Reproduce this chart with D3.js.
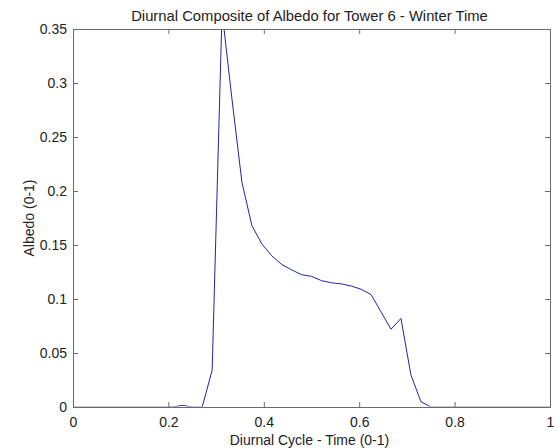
<!DOCTYPE html>
<html>
<head>
<meta charset="utf-8">
<script src="https://cdn.jsdelivr.net/npm/d3@7"></script>
<style>
  body { margin: 0; background: #fff; }
  text { font-family: "Liberation Sans", Arial, sans-serif; fill: #222; }
</style>
</head>
<body>
<div id="chart"></div>
<script>
// half-hour steps of the diurnal cycle (0-1)
const times = [0, 0.0208, 0.0417, 0.0625, 0.0833, 0.1042, 0.125, 0.1458, 0.1667, 0.1875,
  0.2083, 0.2292, 0.25, 0.2708, 0.2917, 0.3125, 0.3333, 0.3542, 0.375, 0.3958,
  0.4167, 0.4375, 0.4583, 0.4792, 0.5, 0.5208, 0.5417, 0.5625, 0.5833, 0.6042,
  0.625, 0.6458, 0.6667, 0.6875, 0.7083, 0.7292, 0.75, 0.7708, 0.7917, 0.8125,
  0.8333, 0.8542, 0.875, 0.8958, 0.9167, 0.9375, 0.9583, 0.9792, 1];
const albedo = [0, 0, 0, 0, 0, 0, 0, 0, 0, 0,
  0, 0.0015, 0, 0, 0.034, 0.366, 0.285, 0.208, 0.168, 0.151,
  0.140, 0.132, 0.127, 0.1225, 0.121, 0.117, 0.115, 0.114, 0.112, 0.109,
  0.104, 0.088, 0.072, 0.082, 0.030, 0.005, 0, 0, 0, 0,
  0, 0, 0, 0, 0, 0, 0, 0, 0];
const xTicks = [0, 0.2, 0.4, 0.6, 0.8, 1];
const yTicks = [0, 0.05, 0.1, 0.15, 0.2, 0.25, 0.3, 0.35];

const W = 558, H = 448;
const margin = { top: 29, right: 8, bottom: 41, left: 73 };
const width = W - margin.left - margin.right;
const height = H - margin.top - margin.bottom;

const svg = d3.select("#chart").append("svg")
  .attr("width", W)
  .attr("height", H)
  .style("display", "block");

svg.append("rect").attr("width", W).attr("height", H).attr("fill", "#fff");

const g = svg.append("g")
  .attr("transform", `translate(${margin.left},${margin.top})`);

const x = d3.scaleLinear().domain([0, 1]).range([0, width]);
const y = d3.scaleLinear().domain([0, 0.35]).range([height, 0]);

// zero values sit under the x axis line, as in the original
g.append("clipPath").attr("id", "clip")
  .append("rect").attr("width", width).attr("height", height - 0.5);

const data = times.map((t, i) => ({ t: t, v: albedo[i] }));

g.append("path")
  .datum(data)
  .attr("clip-path", "url(#clip)")
  .attr("fill", "none")
  .attr("stroke", "#2424a6")
  .attr("stroke-width", 1)
  .attr("d", d3.line().x(d => x(d.t)).y(d => y(d.v)));

const fmt = d => d3.format("~g")(d);
const tick = 5;

// MATLAB style box with inward ticks on all sides
const axisStyle = sel => {
  sel.select(".domain").attr("stroke", "#6a6a6a");
  sel.selectAll(".tick line").attr("stroke", "#6a6a6a");
  sel.selectAll("text").style("font-size", "14px").attr("fill", "#333");
};

g.append("g")
  .attr("transform", `translate(0,${height})`)
  .call(d3.axisBottom(x).tickValues(xTicks).tickFormat(fmt).tickSizeInner(-tick).tickSizeOuter(0).tickPadding(10))
  .call(axisStyle);

g.append("g")
  .call(d3.axisTop(x).tickValues(xTicks).tickFormat("").tickSizeInner(-tick).tickSizeOuter(0))
  .call(axisStyle);

g.append("g")
  .call(d3.axisLeft(y).tickValues(yTicks).tickFormat(fmt).tickSizeInner(-tick).tickSizeOuter(0).tickPadding(6))
  .call(axisStyle);

g.append("g")
  .attr("transform", `translate(${width},0)`)
  .call(d3.axisRight(y).tickValues(yTicks).tickFormat("").tickSizeInner(-tick).tickSizeOuter(0))
  .call(axisStyle);

svg.append("text")
  .attr("x", margin.left + width / 2 - 2)
  .attr("y", 21)
  .attr("text-anchor", "middle")
  .style("font-size", "14.8px")
  .text("Diurnal Composite of Albedo for Tower 6 - Winter Time");

svg.append("text")
  .attr("x", margin.left + width / 2 - 2)
  .attr("y", 445)
  .attr("text-anchor", "middle")
  .style("font-size", "14px")
  .text("Diurnal Cycle - Time (0-1)");

svg.append("text")
  .attr("transform", `translate(34,${margin.top + height / 2}) rotate(-90)`)
  .attr("text-anchor", "middle")
  .style("font-size", "14px")
  .text("Albedo (0-1)");
</script>
</body>
</html>
